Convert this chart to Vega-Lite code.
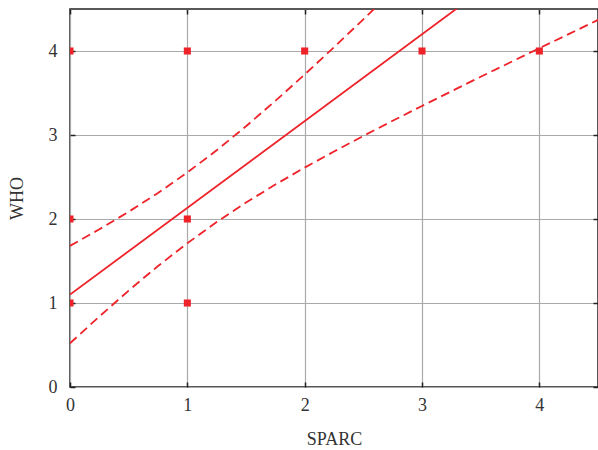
{
  "$schema": "https://vega.github.io/schema/vega-lite/v6.json",
  "width": 528,
  "height": 378,
  "autosize": {"type": "none"},
  "padding": {"left": 70, "top": 9, "right": 0, "bottom": 63},
  "background": "white",
  "config": {
    "view": {"stroke": "#222", "strokeWidth": 1.5},
    "font": "Liberation Serif",
    "axis": {
      "labelFont": "Liberation Serif",
      "titleFont": "Liberation Serif",
      "labelFontSize": 18,
      "titleFontSize": 18,
      "labelColor": "#333",
      "titleColor": "#333",
      "titleFontWeight": "normal",
      "gridColor": "#aaa",
      "gridWidth": 1.2,
      "gridOpacity": 1,
      "domain": false,
      "tickColor": "#222",
      "tickSize": -5,
      "tickWidth": 1.5,
      "labelFlush": false,
      "format": "d"
    }
  },
  "resolve": {"axis": {"x": "independent", "y": "independent"}},
  "datasets": {
    "pts": [
      {"SPARC": 0, "WHO": 4}, {"SPARC": 1, "WHO": 4}, {"SPARC": 2, "WHO": 4},
      {"SPARC": 3, "WHO": 4}, {"SPARC": 4, "WHO": 4}, {"SPARC": 0, "WHO": 2},
      {"SPARC": 1, "WHO": 2}, {"SPARC": 0, "WHO": 1}, {"SPARC": 1, "WHO": 1}
    ],
    "fit": [
      {"SPARC": 0, "WHO": 1.1}, {"SPARC": 4.5, "WHO": 5.749}
    ],
    "band": [
      {"SPARC": 0, "upper": 1.68, "lower": 0.52},
      {"SPARC": 0.25, "upper": 1.877, "lower": 0.839},
      {"SPARC": 0.5, "upper": 2.086, "lower": 1.148},
      {"SPARC": 0.75, "upper": 2.31, "lower": 1.44},
      {"SPARC": 1, "upper": 2.554, "lower": 1.712},
      {"SPARC": 1.25, "upper": 2.818, "lower": 1.964},
      {"SPARC": 1.5, "upper": 3.104, "lower": 2.196},
      {"SPARC": 1.75, "upper": 3.406, "lower": 2.41},
      {"SPARC": 2, "upper": 3.72, "lower": 2.612},
      {"SPARC": 2.25, "upper": 4.045, "lower": 2.803},
      {"SPARC": 2.5, "upper": 4.377, "lower": 2.989},
      {"SPARC": 2.75, "upper": 4.713, "lower": 3.169},
      {"SPARC": 3, "upper": 5.052, "lower": 3.346},
      {"SPARC": 3.25, "upper": 5.394, "lower": 3.52},
      {"SPARC": 3.5, "upper": 5.739, "lower": 3.693},
      {"SPARC": 3.75, "upper": 6.085, "lower": 3.863},
      {"SPARC": 4, "upper": 6.431, "lower": 4.033},
      {"SPARC": 4.25, "upper": 6.779, "lower": 4.201},
      {"SPARC": 4.5, "upper": 7.128, "lower": 4.37}
    ]
  },
  "layer": [
    {
      "data": {"name": "band"},
      "mark": {"type": "line", "color": "#ee2229", "strokeWidth": 1.8, "strokeDash": [9, 5], "clip": true},
      "encoding": {
        "x": {"field": "SPARC", "type": "quantitative", "scale": {"domain": [0, 4.5], "nice": false},
              "axis": {"values": [0, 1, 2, 3, 4], "title": "SPARC", "labelPadding": 14, "titlePadding": 16}},
        "y": {"field": "upper", "type": "quantitative", "scale": {"domain": [0, 4.5], "nice": false},
              "axis": {"values": [0, 1, 2, 3, 4], "title": "WHO", "labelPadding": 18, "titlePadding": 22}}
      }
    },
    {
      "data": {"name": "band"},
      "mark": {"type": "line", "color": "#ee2229", "strokeWidth": 1.8, "strokeDash": [9, 5], "clip": true},
      "encoding": {
        "x": {"field": "SPARC", "type": "quantitative", "axis": null},
        "y": {"field": "lower", "type": "quantitative", "axis": null}
      }
    },
    {
      "data": {"name": "fit"},
      "mark": {"type": "line", "color": "#ee2229", "strokeWidth": 1.8, "clip": true},
      "encoding": {
        "x": {"field": "SPARC", "type": "quantitative", "axis": null},
        "y": {"field": "WHO", "type": "quantitative", "axis": null}
      }
    },
    {
      "data": {"name": "pts"},
      "mark": {"type": "square", "color": "#ee2229", "opacity": 1, "filled": true, "size": 50, "clip": true},
      "encoding": {
        "x": {"field": "SPARC", "type": "quantitative",
              "axis": {"orient": "top", "values": [0, 1, 2, 3, 4], "labels": false, "grid": false, "title": null}},
        "y": {"field": "WHO", "type": "quantitative",
              "axis": {"orient": "right", "values": [0, 1, 2, 3, 4], "labels": false, "grid": false, "title": null}}
      }
    }
  ]
}
